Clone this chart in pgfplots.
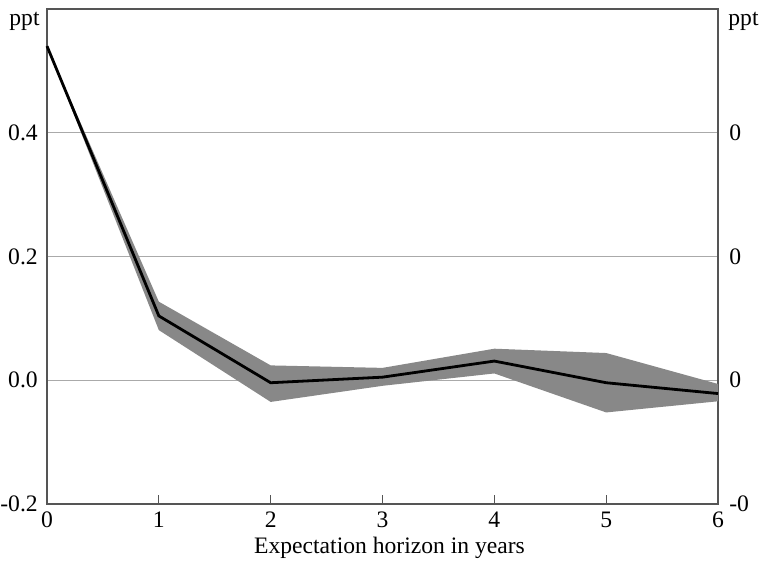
\documentclass[border=0pt]{standalone}
\usepackage{fontspec}
\setmainfont{Liberation Serif}
\usepackage{pgfplots}
\pgfplotsset{compat=1.18}
\usepgfplotslibrary{fillbetween}
\definecolor{bandgray}{HTML}{888888}
\definecolor{axgray}{HTML}{555555}
\definecolor{gridgray}{HTML}{AAAAAA}
\newcommand{\cf}{\fontsize{11.8pt}{13pt}\selectfont}
\begin{document}
\cf
\begin{tikzpicture}
\begin{axis}[
  name=main,
  scale only axis,
  width=335.5pt, height=247.5pt,
  xmin=0, xmax=6, ymin=-0.2, ymax=0.6,
  xtick={0,1,2,3,4,5,6},
  ytick={-0.2,0,0.2,0.4},
  yticklabels={-0.2,0.0,0.2,0.4},
  /pgf/number format/assume math mode=true,
  tick align=inside,
  xtick pos=bottom,
  ytick pos=left,
  major tick length=4.5pt,
  ytick style={draw=none},
  xtick style={axgray, line width=0.6pt},
  axis line style={axgray, line width=0.7pt},
  ymajorgrids,
  grid style={gridgray, line width=0.5pt},
  xlabel={Expectation horizon in years},
  xlabel style={yshift=3.5pt, xshift=3.5pt},
  yticklabel style={xshift=-0.5pt},
  xticklabel style={yshift=0pt},
  tick label style={font=\cf},
  label style={font=\cf},
  clip=false,
]
\addplot[name path=upper, draw=none, forget plot] coordinates {
  (0,0.540) (1,0.127) (2,0.024) (3,0.020) (4,0.051) (5,0.044) (6,-0.006)};
\addplot[name path=lower, draw=none, forget plot] coordinates {
  (0,0.540) (1,0.081) (2,-0.035) (3,-0.009) (4,0.011) (5,-0.052) (6,-0.034)};
\addplot[bandgray, draw=none] fill between[of=upper and lower];
\addplot[black, line width=1.4pt] coordinates {
  (0,0.540) (1,0.104) (2,-0.004) (3,0.005) (4,0.031) (5,-0.004) (6,-0.0215)};
\end{axis}
\begin{axis}[
  scale only axis,
  width=335.5pt, height=247.5pt,
  xmin=0, xmax=6, ymin=-0.2, ymax=0.6,
  axis x line=none,
  axis y line*=right,
  axis line style={draw=none},
  ytick={-0.2,0,0.2,0.4},
  yticklabels={-0,0,0,0},
  ytick style={draw=none},
  yticklabel style={xshift=1.5pt},
  tick label style={font=\cf},
]
\end{axis}
\node[anchor=east, inner sep=0pt] at ([xshift=-3.5pt,yshift=-6pt]main.north west) {ppt};
\node[anchor=west, inner sep=0pt] at ([xshift=5pt,yshift=-6pt]main.north east) {ppt};
\pgfresetboundingbox
\path ([xshift=-23.5pt,yshift=-29pt]main.south west) rectangle ([xshift=21.5pt,yshift=4.5pt]main.north east);
\end{tikzpicture}
\end{document}
